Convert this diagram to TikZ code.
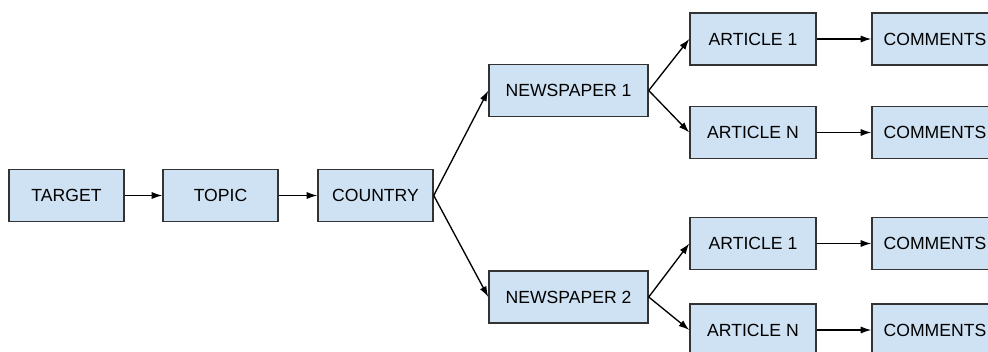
\documentclass[tikz,border=0pt]{standalone}
\usepackage{fontspec}
\setmainfont{Liberation Sans}
\usetikzlibrary{arrows.meta}
\definecolor{boxblue}{HTML}{CFE2F3}
\definecolor{boxline}{HTML}{333333}

\begin{document}
\begin{tikzpicture}[x=0.75pt, y=-0.75pt,
    box/.style={draw=boxline, fill=boxblue, line width=1.1pt, minimum height=39pt,
      inner sep=0pt, font=\fontsize{13.2}{15}\selectfont},
    smallbox/.style={box, minimum width=86.25pt},
    paperbox/.style={box, minimum width=119.25pt},
    articlebox/.style={box, minimum width=94.5pt},
    link/.style={-{Latex[length=8pt,width=5.4pt]}, line width=1pt}]

  \useasboundingbox (0,0) rectangle (988,351);
  \clip (0,0) rectangle (988,351);

  \node[smallbox] (target)  at (66.5, 195.5) {TARGET};
  \node[smallbox] (topic)   at (220.5, 195.5) {TOPIC};
  \node[smallbox] (country) at (375.5, 195.5) {COUNTRY};

  \node[paperbox] (paper1) at (568.5, 90.5) {NEWSPAPER 1};
  \node[paperbox] (paper2) at (568.5, 297)  {NEWSPAPER 2};

  \node[articlebox] (art1a) at (753, 39)    {ARTICLE 1};
  \node[articlebox] (artNa) at (753, 132.5) {ARTICLE N};
  \node[articlebox] (art1b) at (753, 243.5) {ARTICLE 1};
  \node[articlebox] (artNb) at (753, 330)   {ARTICLE N};

  \node[articlebox] (com1a) at (935, 39)    {COMMENTS};
  \node[articlebox] (comNa) at (935, 132.5) {COMMENTS};
  \node[articlebox] (com1b) at (935, 243.5) {COMMENTS};
  \node[articlebox] (comNb) at (935, 330)   {COMMENTS};

  \draw[link] (target) -- (topic);
  \draw[link] (topic) -- (country);

  \draw[link] (country.east) -- (paper1.west);
  \draw[link] (country.east) -- (paper2.west);

  \draw[link] (paper1.east) -- (art1a.west);
  \draw[link] (paper1.east) -- (artNa.west);
  \draw[link] (paper2.east) -- (art1b.west);
  \draw[link] (paper2.east) -- (artNb.west);

  \draw[link] (art1a) -- (com1a);
  \draw[link] (artNa) -- (comNa);
  \draw[link] (art1b) -- (com1b);
  \draw[link] (artNb) -- (comNb);

\end{tikzpicture}
\end{document}
